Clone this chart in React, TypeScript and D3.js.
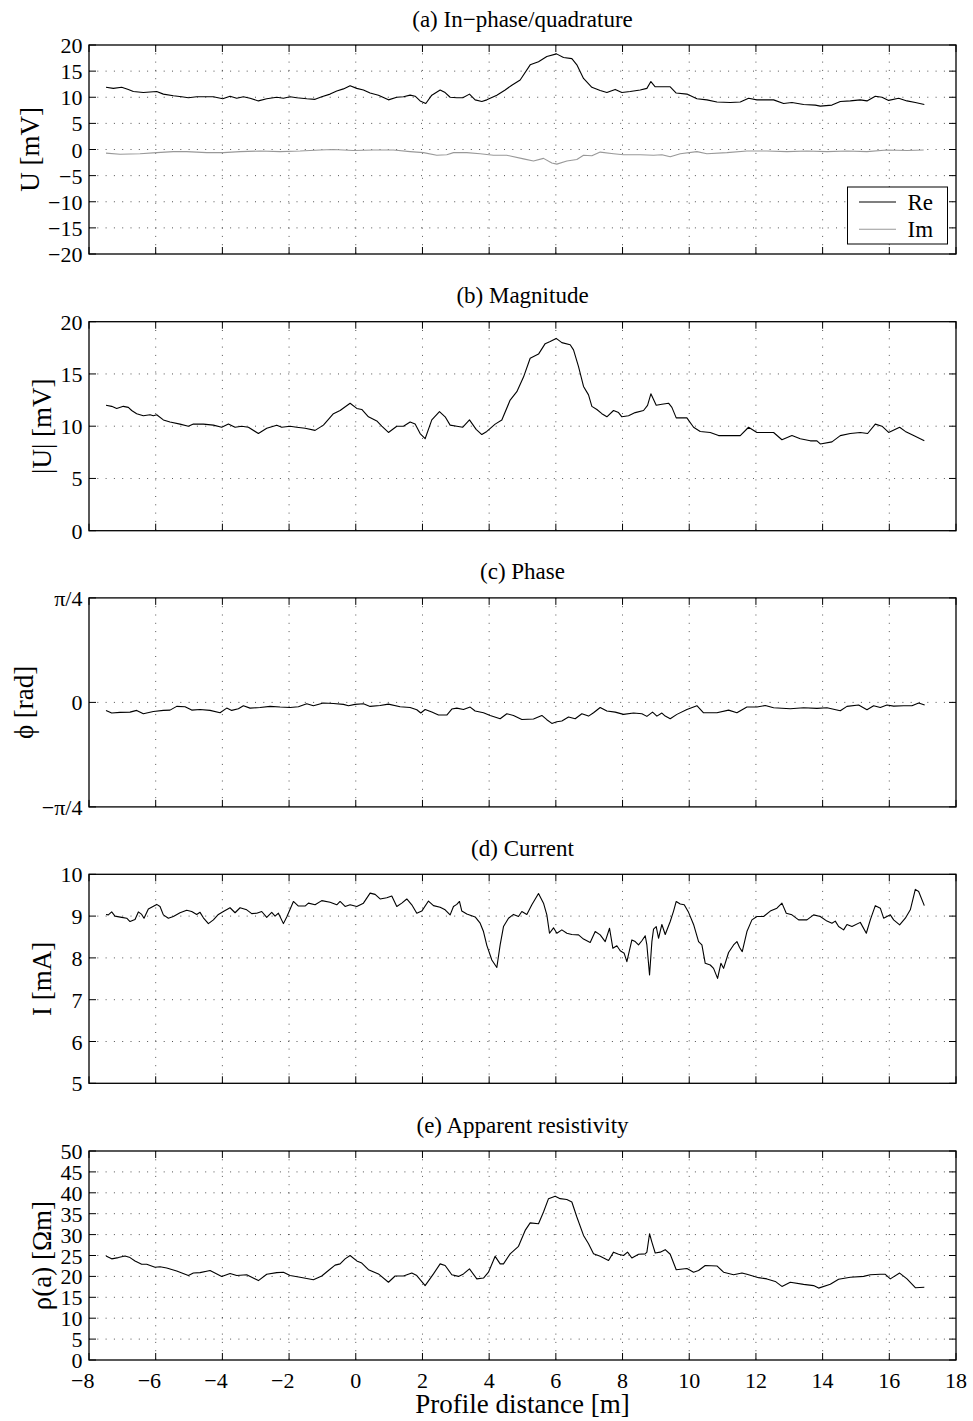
import React from 'react';
import * as d3 from 'd3';

const xTicks = [-8, -6, -4, -2, 0, 2, 4, 6, 8, 10, 12, 14, 16, 18];
const xTickLabels = ['−8', '−6', '−4', '−2', '0', '2', '4', '6', '8', '10', '12', '14', '16', '18'];

const uTicks = [-20, -15, -10, -5, 0, 5, 10, 15, 20];
const uTickLabels = ['−20', '−15', '−10', '−5', '0', '5', '10', '15', '20'];
const magTicks = [0, 5, 10, 15, 20];
const magTickLabels = ['0', '5', '10', '15', '20'];
const phaseTicks = [-Math.PI / 4, 0, Math.PI / 4];
const phaseTickLabels = ['−π/4', '0', 'π/4'];
const curTicks = [5, 6, 7, 8, 9, 10];
const curTickLabels = ['5', '6', '7', '8', '9', '10'];
const rhoTicks = [0, 5, 10, 15, 20, 25, 30, 35, 40, 45, 50];
const rhoTickLabels = ['0', '5', '10', '15', '20', '25', '30', '35', '40', '45', '50'];

const legendLabels = ['Re', 'Im'];

// (a) in-phase component [distance m, mV]
const reData: [number, number][] = [
  [-7.49, 11.9], [-7.27, 11.7], [-7.02, 11.9], [-6.82, 11.5], [-6.67, 11.1], [-6.37, 10.9], [-6.17, 11.0],
  [-5.97, 11.1], [-5.77, 10.6], [-5.47, 10.3], [-5.22, 10.1], [-5.02, 9.9], [-4.77, 10.1], [-4.47, 10.1],
  [-4.27, 10.1], [-3.99, 9.7], [-3.77, 10.2], [-3.57, 9.8], [-3.37, 10.1], [-3.17, 9.8], [-2.92, 9.3],
  [-2.67, 9.7], [-2.37, 10.0], [-2.17, 9.8], [-1.97, 10.1], [-1.77, 9.9], [-1.47, 9.7], [-1.22, 9.6],
  [-1.02, 10.1], [-0.77, 10.6], [-0.57, 11.2], [-0.37, 11.6], [-0.17, 12.2], [0.03, 11.7], [0.23, 11.4],
  [0.43, 10.8], [0.68, 10.4], [0.98, 9.5], [1.23, 10.0], [1.43, 10.1], [1.63, 10.4], [1.78, 10.2],
  [1.93, 9.3], [2.1, 8.8], [2.28, 10.4], [2.53, 11.4], [2.68, 10.9], [2.83, 10.0], [3.03, 9.9],
  [3.21, 9.9], [3.41, 10.6], [3.58, 9.5], [3.78, 9.2], [3.93, 9.5], [4.23, 10.4], [4.48, 11.4],
  [4.68, 12.3], [4.93, 13.3], [5.23, 16.2], [5.48, 16.8], [5.73, 17.8], [6.02, 18.3], [6.23, 17.6],
  [6.48, 17.4], [6.63, 16.2], [6.83, 13.6], [7.08, 11.9], [7.33, 11.3], [7.53, 10.9], [7.78, 11.5],
  [7.98, 10.9], [8.23, 11.1], [8.53, 11.4], [8.73, 11.7], [8.85, 13.0], [8.98, 12.0], [9.23, 12.0],
  [9.43, 12.0], [9.61, 10.8], [9.93, 10.6], [10.23, 9.7], [10.53, 9.5], [10.83, 9.1], [11.23, 9.0],
  [11.53, 9.1], [11.78, 9.8], [12.03, 9.5], [12.53, 9.5], [12.83, 8.8], [13.08, 9.0], [13.43, 8.6],
  [13.78, 8.5], [13.93, 8.3], [14.28, 8.5], [14.53, 9.2], [14.83, 9.3], [15.13, 9.5], [15.33, 9.3],
  [15.58, 10.2], [15.78, 10.0], [15.98, 9.4], [16.28, 9.8], [16.53, 9.3], [16.78, 9.0], [17.05, 8.6],
];

// (a) quadrature component
const imData: [number, number][] = [
  [-7.49, -0.7], [-7.07, -0.9], [-6.47, -0.8], [-5.97, -0.6], [-5.47, -0.4], [-5.07, -0.4], [-4.47, -0.6],
  [-3.97, -0.6], [-3.47, -0.4], [-2.87, -0.3], [-2.27, -0.4], [-1.67, -0.3], [-1.07, -0.1], [-0.67, 0.0],
  [-0.07, -0.2], [0.53, -0.1], [1.13, -0.1], [1.63, -0.4], [2.03, -0.6], [2.43, -1.1], [2.73, -1.0],
  [2.93, -0.6], [3.33, -0.6], [3.73, -0.8], [4.13, -1.1], [4.53, -1.1], [5.03, -1.8], [5.33, -2.2],
  [5.63, -1.7], [5.88, -2.6], [6.03, -2.8], [6.33, -2.2], [6.63, -1.9], [6.83, -1.1], [7.08, -1.2],
  [7.33, -0.5], [7.73, -0.8], [8.03, -1.0], [8.53, -1.0], [8.93, -1.1], [9.18, -1.0], [9.43, -1.4],
  [9.73, -0.8], [10.23, -0.4], [10.53, -0.8], [11.13, -0.6], [11.73, -0.3], [12.33, -0.3], [12.93, -0.4],
  [13.53, -0.3], [14.13, -0.4], [14.73, -0.3], [15.33, -0.4], [15.93, -0.1], [16.53, -0.2], [17.03, -0.1],
];

// (b) magnitude
const magData: [number, number][] = [
  [-7.49, 12.0], [-7.32, 11.9], [-7.17, 11.7], [-6.97, 11.9], [-6.82, 11.8], [-6.72, 11.5], [-6.57, 11.2],
  [-6.37, 11.0], [-6.17, 11.1], [-6.07, 11.0], [-5.97, 11.1], [-5.77, 10.6], [-5.57, 10.4], [-5.27, 10.2],
  [-5.02, 10.0], [-4.87, 10.2], [-4.57, 10.2], [-4.27, 10.1], [-4.02, 9.9], [-3.82, 10.2], [-3.62, 9.9],
  [-3.42, 10.0], [-3.22, 9.9], [-2.92, 9.3], [-2.67, 9.8], [-2.37, 10.1], [-2.22, 9.9], [-1.97, 10.0],
  [-1.77, 9.9], [-1.52, 9.8], [-1.22, 9.6], [-0.97, 10.1], [-0.67, 11.2], [-0.47, 11.5], [-0.17, 12.2],
  [0.03, 11.7], [0.18, 11.6], [0.38, 10.9], [0.63, 10.5], [0.78, 10.0], [0.98, 9.4], [1.23, 10.0],
  [1.43, 10.0], [1.63, 10.4], [1.78, 10.2], [1.93, 9.3], [2.08, 8.8], [2.28, 10.6], [2.51, 11.4],
  [2.68, 10.9], [2.83, 10.1], [3.03, 10.0], [3.21, 9.9], [3.41, 10.6], [3.61, 9.7], [3.78, 9.2],
  [3.93, 9.5], [4.18, 10.2], [4.38, 10.6], [4.63, 12.5], [4.83, 13.3], [5.03, 14.7], [5.23, 16.5],
  [5.48, 16.9], [5.68, 17.9], [5.83, 18.1], [6.01, 18.4], [6.18, 18.0], [6.43, 17.8], [6.53, 17.3],
  [6.68, 15.7], [6.83, 13.8], [6.98, 13.0], [7.08, 11.9], [7.23, 11.6], [7.38, 11.2], [7.53, 10.9],
  [7.73, 11.5], [7.88, 11.3], [7.98, 10.9], [8.18, 11.0], [8.38, 11.3], [8.63, 11.5], [8.75, 12.0],
  [8.85, 13.1], [9.01, 12.0], [9.18, 12.1], [9.38, 12.2], [9.48, 11.8], [9.61, 10.8], [9.93, 10.8],
  [10.13, 9.9], [10.33, 9.5], [10.63, 9.4], [10.88, 9.1], [11.23, 9.1], [11.53, 9.1], [11.78, 9.9],
  [12.03, 9.4], [12.53, 9.4], [12.78, 8.7], [13.08, 9.1], [13.33, 8.8], [13.63, 8.6], [13.83, 8.6],
  [13.93, 8.3], [14.28, 8.5], [14.53, 9.1], [14.83, 9.3], [15.13, 9.4], [15.35, 9.3], [15.58, 10.2],
  [15.78, 10.0], [15.98, 9.4], [16.31, 9.9], [16.48, 9.5], [16.73, 9.1], [17.05, 8.6],
];

// (c) phase [rad]
const phaseData: [number, number][] = [
  [-7.49, -0.06], [-7.32, -0.08], [-7.07, -0.075], [-6.77, -0.073], [-6.57, -0.06], [-6.37, -0.085],
  [-6.07, -0.068], [-5.77, -0.06], [-5.57, -0.058], [-5.37, -0.03], [-5.12, -0.033], [-4.92, -0.058],
  [-4.67, -0.053], [-4.37, -0.06], [-4.07, -0.078], [-3.87, -0.043], [-3.72, -0.06], [-3.52, -0.048],
  [-3.37, -0.025], [-3.17, -0.043], [-2.87, -0.038], [-2.57, -0.03], [-2.27, -0.035], [-1.97, -0.038],
  [-1.72, -0.033], [-1.47, -0.01], [-1.27, -0.025], [-0.97, -0.005], [-0.67, -0.008], [-0.37, -0.015],
  [-0.22, -0.025], [-0.02, -0.015], [0.23, -0.01], [0.43, -0.03], [0.73, -0.023], [0.98, -0.013],
  [1.33, -0.033], [1.63, -0.038], [1.83, -0.055], [1.95, -0.08], [2.08, -0.053], [2.28, -0.073],
  [2.48, -0.095], [2.73, -0.095], [2.88, -0.05], [3.03, -0.043], [3.23, -0.053], [3.43, -0.035],
  [3.58, -0.065], [3.83, -0.078], [4.03, -0.098], [4.33, -0.123], [4.53, -0.085], [4.73, -0.098],
  [4.98, -0.128], [5.33, -0.125], [5.58, -0.098], [5.73, -0.13], [5.88, -0.158], [6.03, -0.145],
  [6.18, -0.14], [6.38, -0.11], [6.58, -0.123], [6.78, -0.085], [6.98, -0.103], [7.13, -0.078],
  [7.33, -0.038], [7.53, -0.065], [7.78, -0.073], [8.03, -0.09], [8.33, -0.08], [8.58, -0.085],
  [8.73, -0.105], [8.9, -0.073], [9.03, -0.103], [9.18, -0.08], [9.28, -0.103], [9.43, -0.123],
  [9.63, -0.09], [9.93, -0.053], [10.23, -0.025], [10.43, -0.078], [10.83, -0.078], [11.18, -0.058],
  [11.43, -0.078], [11.73, -0.035], [12.03, -0.035], [12.28, -0.023], [12.53, -0.04], [13.03, -0.048],
  [13.43, -0.04], [13.83, -0.045], [14.13, -0.04], [14.53, -0.063], [14.73, -0.03], [15.08, -0.02],
  [15.33, -0.055], [15.53, -0.025], [15.73, -0.038], [15.93, -0.02], [16.13, -0.028], [16.43, -0.025],
  [16.68, -0.025], [16.88, -0.005], [17.06, -0.02],
];

// (d) current [mA]
const curData: [number, number][] = [
  [-7.49, 9.04], [-7.42, 9.03], [-7.32, 9.1], [-7.22, 9.0], [-7.02, 8.97], [-6.87, 8.95], [-6.77, 8.87],
  [-6.62, 8.92], [-6.52, 9.1], [-6.42, 9.04], [-6.35, 8.95], [-6.22, 9.17], [-5.97, 9.28], [-5.87, 9.23],
  [-5.77, 9.03], [-5.62, 8.95], [-5.47, 8.99], [-5.27, 9.08], [-5.07, 9.14], [-4.92, 9.11], [-4.77, 9.04],
  [-4.67, 9.09], [-4.57, 8.96], [-4.42, 8.82], [-4.27, 8.91], [-4.12, 9.04], [-3.97, 9.11], [-3.77, 9.2],
  [-3.62, 9.08], [-3.47, 9.2], [-3.27, 9.15], [-3.12, 9.06], [-2.97, 9.07], [-2.82, 9.11], [-2.67, 8.97],
  [-2.52, 9.09], [-2.42, 9.0], [-2.32, 9.07], [-2.17, 8.82], [-2.07, 8.98], [-1.87, 9.35], [-1.72, 9.24],
  [-1.52, 9.24], [-1.42, 9.31], [-1.22, 9.27], [-1.02, 9.37], [-0.77, 9.33], [-0.57, 9.27], [-0.47, 9.35],
  [-0.32, 9.23], [-0.17, 9.27], [0.03, 9.23], [0.23, 9.31], [0.43, 9.55], [0.58, 9.52], [0.73, 9.41],
  [0.93, 9.44], [1.08, 9.48], [1.23, 9.23], [1.38, 9.31], [1.53, 9.41], [1.68, 9.27], [1.83, 9.07],
  [1.98, 9.12], [2.18, 9.36], [2.33, 9.25], [2.53, 9.21], [2.68, 9.15], [2.83, 9.03], [2.93, 9.23],
  [3.03, 9.28], [3.11, 9.35], [3.18, 9.12], [3.33, 9.05], [3.58, 8.98], [3.73, 8.83], [3.83, 8.63],
  [3.93, 8.3], [4.08, 7.95], [4.23, 7.77], [4.33, 8.31], [4.43, 8.75], [4.58, 8.95], [4.73, 9.04],
  [4.88, 8.99], [4.98, 9.11], [5.13, 9.04], [5.28, 9.27], [5.48, 9.54], [5.63, 9.31], [5.73, 9.03],
  [5.81, 8.59], [5.93, 8.72], [6.03, 8.59], [6.18, 8.67], [6.33, 8.59], [6.48, 8.56], [6.68, 8.55],
  [6.83, 8.45], [7.03, 8.37], [7.18, 8.63], [7.33, 8.55], [7.48, 8.39], [7.61, 8.71], [7.71, 8.23],
  [7.83, 8.29], [7.93, 8.17], [8.05, 8.11], [8.13, 7.91], [8.28, 8.43], [8.38, 8.39], [8.48, 8.31],
  [8.58, 8.41], [8.68, 8.53], [8.73, 8.31], [8.81, 7.59], [8.88, 8.39], [8.93, 8.69], [9.01, 8.75],
  [9.08, 8.47], [9.18, 8.8], [9.28, 8.56], [9.43, 8.87], [9.53, 9.12], [9.61, 9.35], [9.73, 9.29],
  [9.85, 9.27], [9.98, 9.09], [10.13, 8.8], [10.28, 8.39], [10.38, 8.31], [10.48, 7.87], [10.63, 7.83],
  [10.73, 7.75], [10.85, 7.51], [10.95, 7.87], [11.03, 7.75], [11.18, 8.13], [11.33, 8.31], [11.43, 8.39],
  [11.51, 8.25], [11.59, 8.15], [11.73, 8.63], [11.88, 8.91], [12.03, 8.99], [12.23, 8.99], [12.43, 9.12],
  [12.63, 9.19], [12.78, 9.31], [12.91, 9.07], [13.08, 9.03], [13.28, 8.91], [13.53, 8.91], [13.73, 9.03],
  [13.93, 8.99], [14.13, 8.88], [14.28, 8.83], [14.38, 8.88], [14.48, 8.75], [14.63, 8.67], [14.73, 8.8],
  [14.88, 8.75], [15.13, 8.85], [15.31, 8.59], [15.43, 8.91], [15.58, 9.25], [15.73, 9.19], [15.83, 8.95],
  [16.03, 9.03], [16.13, 8.91], [16.31, 8.79], [16.48, 8.95], [16.63, 9.15], [16.78, 9.64], [16.88, 9.59],
  [17.05, 9.25],
];

// (e) apparent resistivity [ohm m]
const rhoData: [number, number][] = [
  [-7.49, 24.9], [-7.32, 24.2], [-7.12, 24.5], [-6.92, 24.9], [-6.77, 24.5], [-6.62, 23.7], [-6.42, 22.9],
  [-6.27, 22.9], [-6.02, 22.2], [-5.87, 22.3], [-5.67, 22.0], [-5.37, 21.3], [-5.02, 20.2], [-4.87, 20.8],
  [-4.67, 20.9], [-4.37, 21.4], [-4.02, 20.0], [-3.77, 20.7], [-3.57, 20.2], [-3.27, 20.4], [-2.92, 19.0],
  [-2.67, 20.5], [-2.37, 20.9], [-2.17, 21.0], [-1.97, 20.2], [-1.67, 19.8], [-1.27, 19.2], [-1.02, 20.1],
  [-0.82, 21.4], [-0.62, 22.7], [-0.47, 23.0], [-0.32, 24.2], [-0.17, 25.0], [0.03, 23.7], [0.18, 23.2],
  [0.38, 21.6], [0.68, 20.6], [0.98, 18.6], [1.18, 20.1], [1.43, 20.1], [1.68, 20.8], [1.83, 20.2],
  [2.08, 17.8], [2.33, 20.6], [2.53, 23.0], [2.68, 22.6], [2.88, 20.4], [3.08, 20.0], [3.23, 20.6],
  [3.41, 21.8], [3.63, 19.4], [3.83, 19.6], [3.98, 21.0], [4.18, 24.8], [4.33, 23.0], [4.43, 23.0],
  [4.63, 25.4], [4.88, 27.2], [5.08, 31.0], [5.23, 32.8], [5.48, 32.6], [5.63, 35.4], [5.78, 38.6],
  [5.88, 38.9], [5.98, 39.2], [6.13, 38.6], [6.33, 38.4], [6.48, 37.8], [6.63, 34.2], [6.83, 29.8],
  [6.98, 27.8], [7.13, 25.4], [7.33, 24.8], [7.58, 23.8], [7.73, 25.8], [7.88, 25.3], [8.03, 25.0],
  [8.15, 25.8], [8.28, 24.4], [8.48, 25.3], [8.68, 25.4], [8.73, 25.8], [8.81, 30.2], [8.88, 28.2],
  [8.98, 25.6], [9.13, 25.8], [9.28, 26.4], [9.43, 25.3], [9.61, 21.6], [9.93, 21.9], [10.13, 21.0],
  [10.28, 21.4], [10.48, 22.6], [10.83, 22.5], [11.03, 21.0], [11.33, 20.4], [11.58, 20.8], [11.73, 20.5],
  [12.08, 19.7], [12.33, 19.4], [12.58, 18.8], [12.78, 17.6], [13.03, 18.6], [13.43, 18.1], [13.73, 17.8],
  [13.88, 17.2], [14.23, 18.1], [14.48, 19.3], [14.83, 19.8], [15.23, 20.0], [15.43, 20.4], [15.73, 20.5],
  [15.88, 20.5], [16.03, 19.4], [16.31, 20.8], [16.53, 19.4], [16.78, 17.3], [17.05, 17.4],
];

const W = 973;
const H = 1421;
const LEFT = 89;
const RIGHT = 956;
const PH = 209;
const FONT = '"Liberation Serif", "Times New Roman", "DejaVu Serif", serif';

const xScale = d3.scaleLinear().domain([-8, 18]).range([LEFT, RIGHT]);

type Series = { data: [number, number][]; color: string };

type PanelProps = {
  top: number;
  title: string;
  domain: [number, number];
  ticks: number[];
  tickLabels: string[];
  ylabel: string;
  ylabelX: number;
  series: Series[];
  showX?: boolean;
  legend?: boolean;
};

function Panel({ top, title, domain, ticks, tickLabels, ylabel, ylabelX, series, showX, legend }: PanelProps) {
  const bottom = top + PH;
  const y = d3.scaleLinear().domain(domain).range([bottom, top]);
  const line = d3
    .line<[number, number]>()
    .x((d) => xScale(d[0]))
    .y((d) => y(d[1]));
  const tl = 7;
  const innerX = xTicks.filter((t) => t > -8 && t < 18);
  const innerY = ticks.filter((t) => t > domain[0] + 1e-9 && t < domain[1] - 1e-9);
  return (
    <g>
      <text x={(LEFT + RIGHT) / 2} y={top - 18.5} textAnchor="middle" fontSize={23} fontFamily={FONT}>
        {title}
      </text>
      {/* grid */}
      {innerX.map((t) => (
        <line key={'gx' + t} x1={xScale(t)} x2={xScale(t)} y1={top} y2={bottom} stroke="#000" strokeWidth={0.9} strokeDasharray="1 7.3" opacity={0.75} />
      ))}
      {innerY.map((t) => (
        <line key={'gy' + t} x1={LEFT} x2={RIGHT} y1={y(t)} y2={y(t)} stroke="#000" strokeWidth={0.9} strokeDasharray="1 7.3" opacity={0.75} />
      ))}
      {/* ticks */}
      {xTicks.map((t) => (
        <g key={'tx' + t}>
          <line x1={xScale(t)} x2={xScale(t)} y1={bottom} y2={bottom - tl} stroke="#000" strokeWidth={1} />
          <line x1={xScale(t)} x2={xScale(t)} y1={top} y2={top + tl} stroke="#000" strokeWidth={1} />
        </g>
      ))}
      {ticks.map((t, i) => (
        <g key={'ty' + i}>
          <line x1={LEFT} x2={LEFT + tl} y1={y(t)} y2={y(t)} stroke="#000" strokeWidth={1} />
          <line x1={RIGHT} x2={RIGHT - tl} y1={y(t)} y2={y(t)} stroke="#000" strokeWidth={1} />
          <text x={LEFT - 6.5} y={y(t) + 8} textAnchor="end" fontSize={22} fontFamily={FONT}>
            {tickLabels[i]}
          </text>
        </g>
      ))}
      {/* data */}
      {series.map((s, i) => (
        <path key={'s' + i} d={line(s.data) || ''} fill="none" stroke={s.color} strokeWidth={1.1} strokeLinejoin="round" />
      ))}
      {/* frame */}
      <rect x={LEFT} y={top} width={RIGHT - LEFT} height={PH} fill="none" stroke="#000" strokeWidth={1.3} />
      <text
        transform={`translate(${ylabelX},${(top + bottom) / 2}) rotate(-90)`}
        textAnchor="middle"
        dominantBaseline="central"
        fontSize={27}
        fontFamily={FONT}
      >
        {ylabel}
      </text>
      {showX &&
        xTicks.map((t, i) => {
          const neg = xTickLabels[i].startsWith('−');
          return (
            <text key={'xl' + t} x={xScale(t) - (neg ? 6.3 : 0)} y={bottom + 28} textAnchor="middle" fontSize={22} fontFamily={FONT}>
              {xTickLabels[i]}
            </text>
          );
        })}
      {legend && (
        <g>
          <rect x={847.5} y={187} width={100} height={57} fill="#fff" stroke="#000" strokeWidth={1} />
          {legendLabels.map((lab, i) => (
            <g key={lab}>
              <line x1={859} x2={896} y1={202 + i * 27.3} y2={202 + i * 27.3} stroke={series[i].color} strokeWidth={1.1} />
              <text x={907.5} y={202 + i * 27.3 + 8} fontSize={23} fontFamily={FONT}>
                {lab}
              </text>
            </g>
          ))}
        </g>
      )}
    </g>
  );
}

export default function App() {
  const tops = [45, 321.7, 597.9, 874.3, 1151];
  return (
    <svg width={W} height={H} style={{ position: 'absolute', left: 0, top: 0, background: '#fff' }}>
      <rect x={0} y={0} width={W} height={H} fill="#fff" />
      <Panel
        top={tops[0]}
        title="(a) In−phase/quadrature"
        domain={[-20, 20]}
        ticks={uTicks}
        tickLabels={uTickLabels}
        ylabel="U [mV]"
        ylabelX={30}
        series={[
          { data: reData, color: '#000' },
          { data: imData, color: '#999' },
        ]}
        legend
      />
      <Panel
        top={tops[1]}
        title="(b) Magnitude"
        domain={[0, 20]}
        ticks={magTicks}
        tickLabels={magTickLabels}
        ylabel="|U| [mV]"
        ylabelX={42}
        series={[{ data: magData, color: '#000' }]}
      />
      <Panel
        top={tops[2]}
        title="(c) Phase"
        domain={[-Math.PI / 4, Math.PI / 4]}
        ticks={phaseTicks}
        tickLabels={phaseTickLabels}
        ylabel="ϕ [rad]"
        ylabelX={24}
        series={[{ data: phaseData, color: '#000' }]}
      />
      <Panel
        top={tops[3]}
        title="(d) Current"
        domain={[5, 10]}
        ticks={curTicks}
        tickLabels={curTickLabels}
        ylabel="I [mA]"
        ylabelX={42}
        series={[{ data: curData, color: '#000' }]}
      />
      <Panel
        top={tops[4]}
        title="(e) Apparent resistivity"
        domain={[0, 50]}
        ticks={rhoTicks}
        tickLabels={rhoTickLabels}
        ylabel="ρ(a) [Ωm]"
        ylabelX={42}
        series={[{ data: rhoData, color: '#000' }]}
        showX
      />
      <text x={(LEFT + RIGHT) / 2} y={1413} textAnchor="middle" fontSize={27} fontFamily={FONT}>
        Profile distance [m]
      </text>
    </svg>
  );
}
